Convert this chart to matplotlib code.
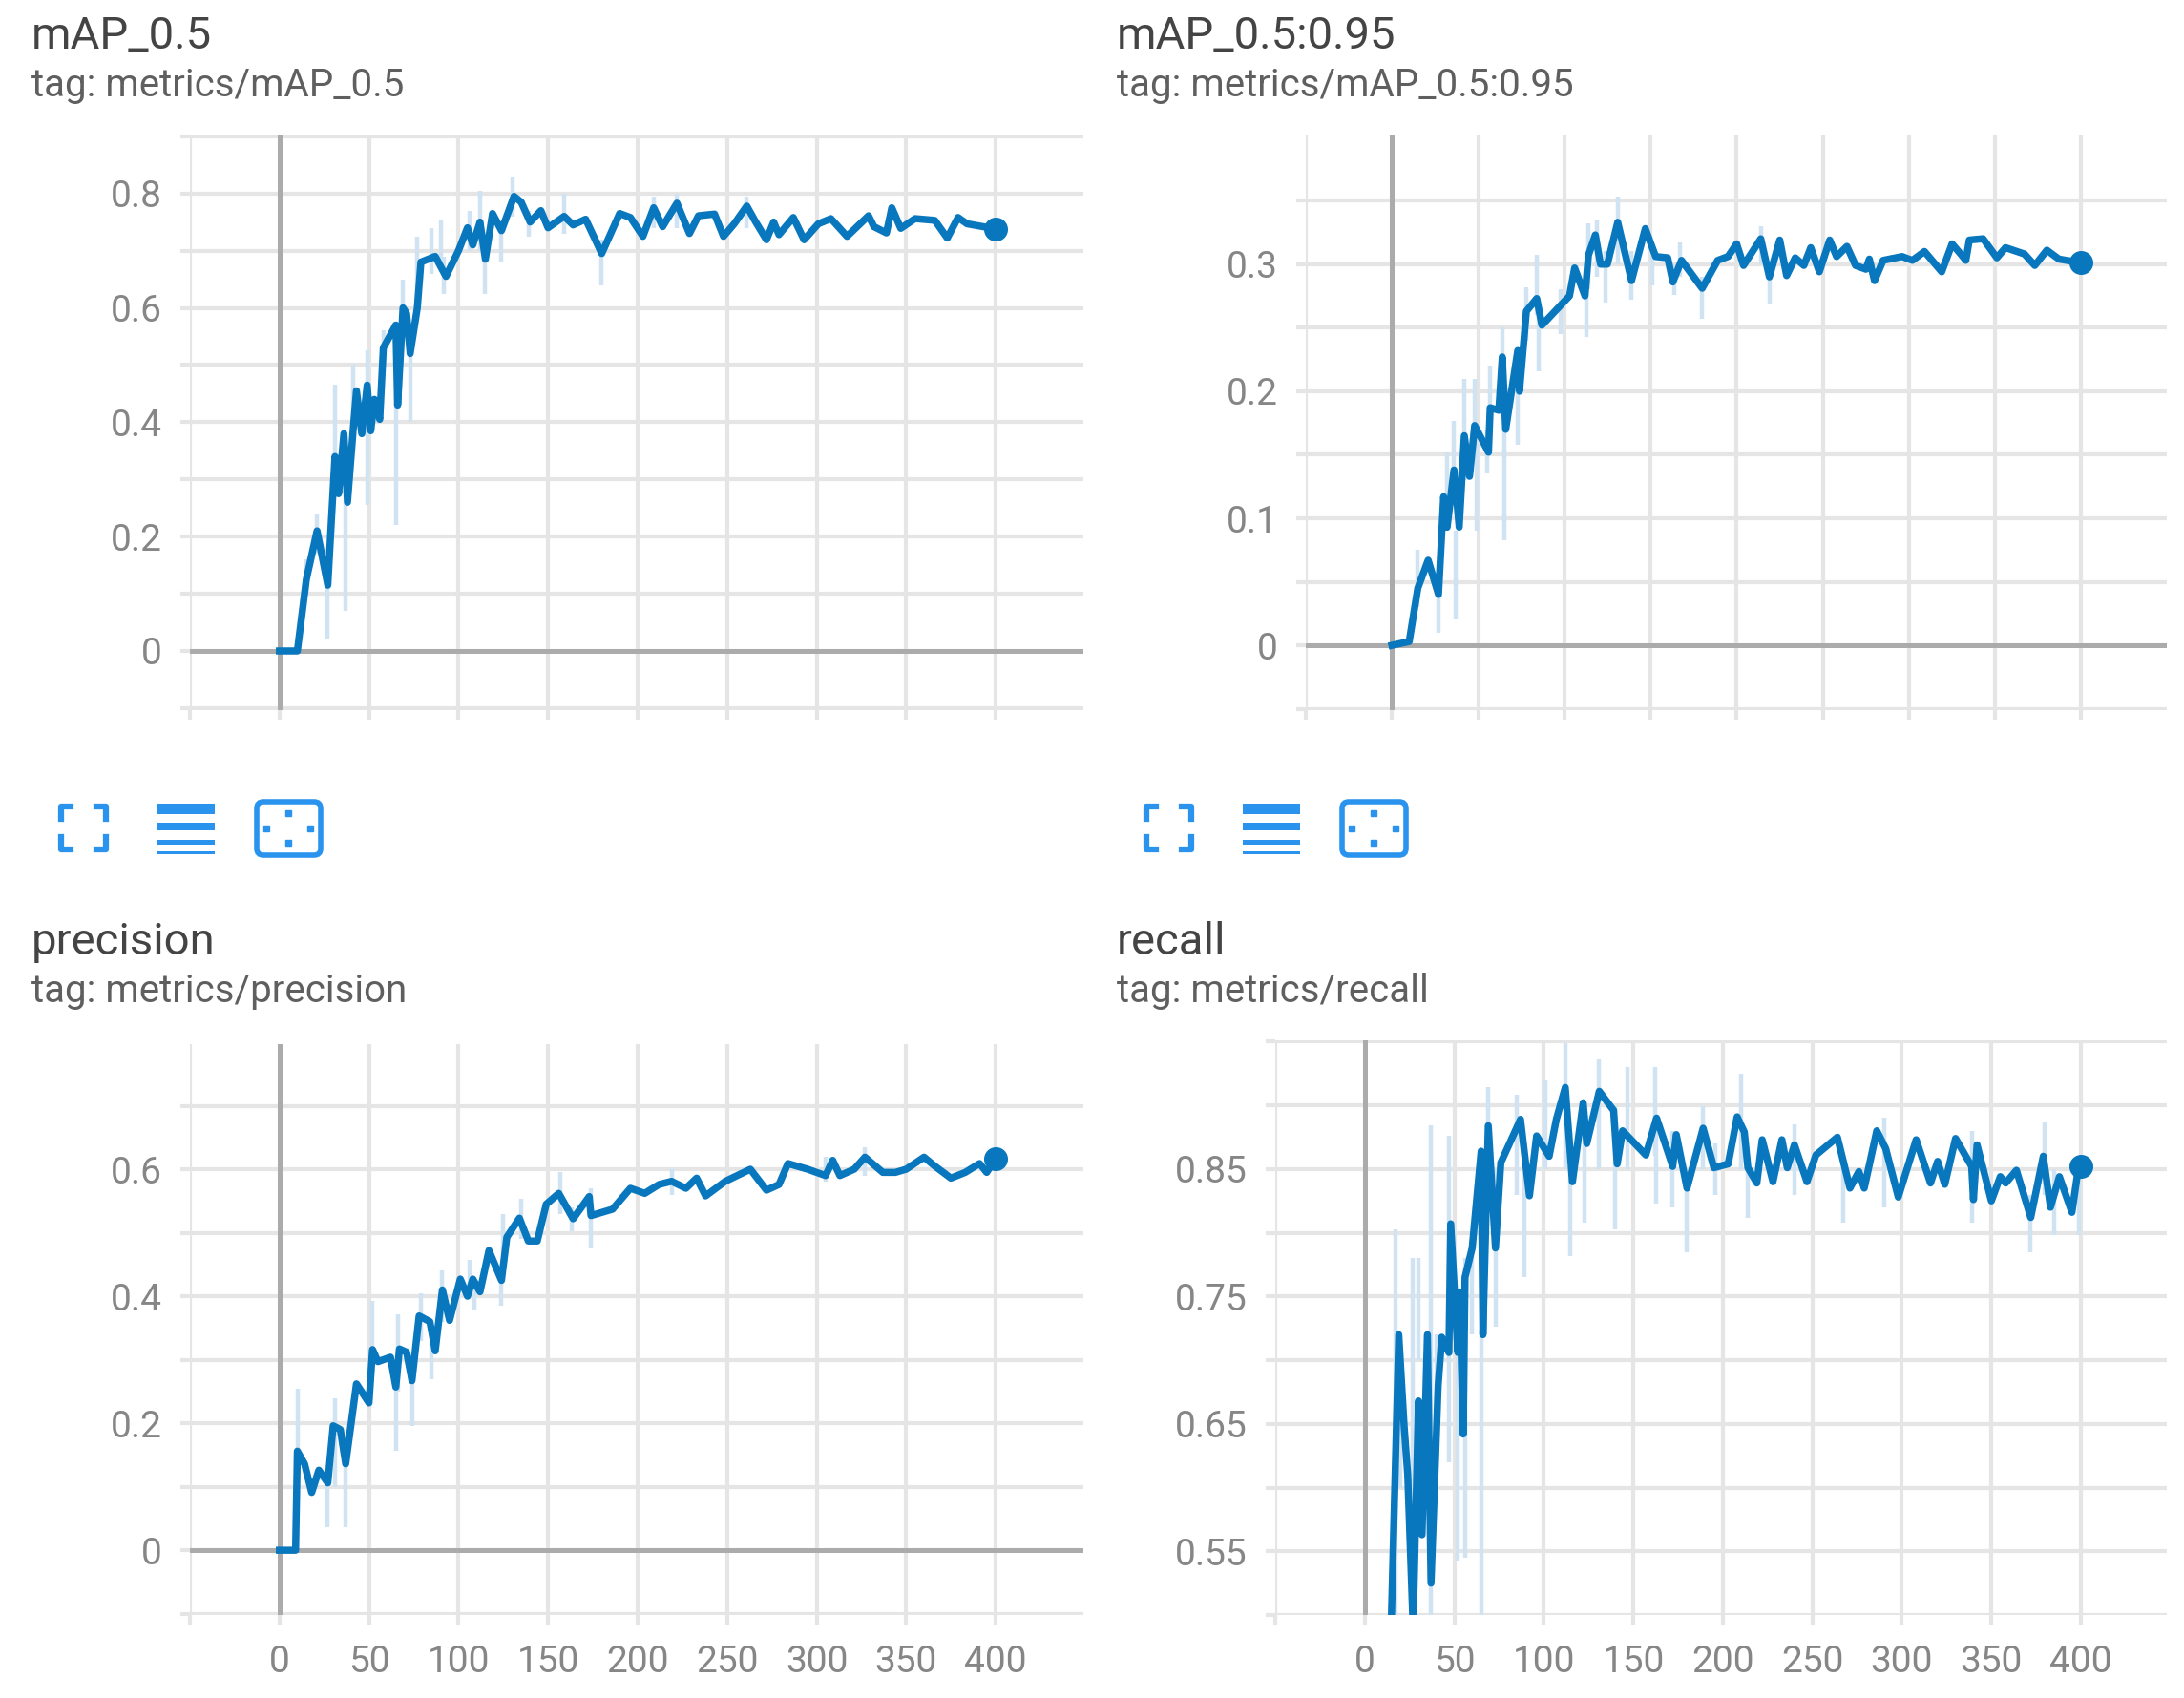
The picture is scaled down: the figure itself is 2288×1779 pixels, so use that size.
import matplotlib
matplotlib.use('Agg')  # no display here
import matplotlib.pyplot as plt
from matplotlib.patches import FancyBboxPatch, Rectangle

W, H = 2288, 1779

BLUE = '#0877bd'
RAW = '#cfe3f2'
GRID = '#e5e5e5'
ZERO = '#ababab'
ICON = '#2a93ee'

# mAP_0.5
map5_x = [0, 10, 15, 21, 27, 31, 33, 36, 38, 41, 43, 46, 49, 51, 53, 56, 58, 65, 66, 69, 71, 73, 77, 79, 87, 93,
          100, 105, 108, 112, 115, 119, 124, 131, 135, 140, 146, 150, 159, 164, 171, 180, 190, 196, 203, 209, 214,
          222, 229, 234, 243, 248, 254, 261, 266, 272, 276, 279, 287, 293, 301, 308, 317, 329, 332, 339, 342, 347,
          355, 366, 373, 379, 384, 400]
map5_y = [0, 0.0, 0.125, 0.21, 0.115, 0.34, 0.275, 0.38, 0.26, 0.38, 0.455, 0.38, 0.465, 0.385, 0.44, 0.405, 0.53,
          0.57, 0.43, 0.60, 0.59, 0.52, 0.60, 0.68, 0.69, 0.655, 0.70, 0.74, 0.71, 0.75, 0.685, 0.765, 0.735, 0.795,
          0.785, 0.75, 0.77, 0.74, 0.76, 0.745, 0.755, 0.695, 0.765, 0.758, 0.725, 0.775, 0.742, 0.783, 0.73, 0.761,
          0.764, 0.725, 0.747, 0.778, 0.75, 0.719, 0.75, 0.728, 0.758, 0.719, 0.747, 0.756, 0.725, 0.761, 0.742,
          0.731, 0.775, 0.739, 0.756, 0.753, 0.722, 0.758, 0.747, 0.738]
map5_raw_x = [15, 21, 27, 31, 37, 41, 49, 58, 65, 69, 73, 77, 85, 90, 92, 106, 112, 115, 124, 130, 139, 159, 180,
              209, 222, 261]
map5_raw_lo = [0.10, 0.17, 0.02, 0.30, 0.07, 0.35, 0.255, 0.50, 0.22, 0.55, 0.40, 0.60, 0.66, 0.68, 0.625, 0.70,
               0.70, 0.625, 0.68, 0.76, 0.725, 0.73, 0.64, 0.74, 0.74, 0.74]
map5_raw_hi = [0.16, 0.24, 0.13, 0.465, 0.30, 0.50, 0.525, 0.56, 0.45, 0.65, 0.55, 0.725, 0.74, 0.755, 0.69, 0.77,
               0.805, 0.70, 0.75, 0.83, 0.77, 0.80, 0.72, 0.795, 0.80, 0.795]

# mAP_0.5:0.95
map95_x = [0, 10, 15, 21, 27, 30, 32, 36, 39, 42, 45, 48, 56, 57, 62, 64, 66, 73, 74, 78, 84, 87, 103, 106, 112,
           114, 118, 121, 125, 131, 139, 147, 153, 160, 163, 168, 180, 189, 195, 200, 204, 214, 219, 225, 229, 234,
           239, 243, 248, 254, 258, 264, 269, 275, 277, 280, 285, 296, 302, 309, 319, 325, 330, 333, 335, 343, 351,
           356, 367, 373, 380, 387, 400]
map95_y = [0, 0.003, 0.045, 0.067, 0.04, 0.117, 0.093, 0.138, 0.093, 0.165, 0.133, 0.173, 0.152, 0.187, 0.185, 0.227,
           0.17, 0.232, 0.2, 0.263, 0.273, 0.252, 0.275, 0.297, 0.275, 0.307, 0.323, 0.3, 0.3, 0.333, 0.287, 0.328,
           0.306, 0.305, 0.286, 0.303, 0.281, 0.303, 0.306, 0.316, 0.299, 0.32, 0.29, 0.319, 0.291, 0.305, 0.299,
           0.313, 0.294, 0.319, 0.306, 0.314, 0.299, 0.296, 0.304, 0.287, 0.303, 0.306, 0.303, 0.31, 0.294, 0.316,
           0.308, 0.303, 0.319, 0.32, 0.305, 0.313, 0.308, 0.299, 0.311, 0.304, 0.301]
map95_raw_x = [15, 27, 32, 36, 37, 42, 48, 49, 55, 57, 64, 65, 73, 78, 84, 85, 98, 113, 114, 119, 124, 131, 139,
               151, 164, 167, 180, 214, 219]
map95_raw_lo = [0.03, 0.01, 0.09, 0.12, 0.02, 0.13, 0.15, 0.09, 0.135, 0.17, 0.19, 0.083, 0.158, 0.24, 0.26, 0.216,
                0.245, 0.243, 0.28, 0.29, 0.27, 0.30, 0.272, 0.283, 0.276, 0.29, 0.257, 0.30, 0.269]
map95_raw_hi = [0.075, 0.05, 0.152, 0.177, 0.09, 0.21, 0.21, 0.16, 0.17, 0.22, 0.25, 0.18, 0.21, 0.282, 0.307, 0.27,
                0.28, 0.30, 0.332, 0.335, 0.31, 0.353, 0.31, 0.31, 0.30, 0.317, 0.29, 0.33, 0.30]

# precision
prec_x = [0, 9, 10, 14, 18, 22, 27, 30, 34, 37, 43, 50, 52, 55, 62, 65, 67, 71, 74, 78, 84, 87, 91, 95, 101, 105,
          108, 112, 117, 124, 127, 134, 139, 144, 149, 156, 164, 173, 174, 186, 196, 204, 212, 219, 227, 233, 238,
          249, 263, 272, 279, 284, 295, 305, 309, 313, 321, 327, 337, 344, 350, 360, 366, 375, 383, 391, 395, 400]
prec_y = [0, 0, 0.156, 0.136, 0.091, 0.126, 0.106, 0.196, 0.19, 0.136, 0.262, 0.232, 0.316, 0.297, 0.304, 0.257,
          0.317, 0.312, 0.267, 0.369, 0.36, 0.314, 0.41, 0.362, 0.427, 0.40, 0.427, 0.407, 0.472, 0.425, 0.493,
          0.523, 0.487, 0.487, 0.545, 0.562, 0.522, 0.557, 0.527, 0.537, 0.57, 0.562, 0.576, 0.581, 0.57, 0.586,
          0.558, 0.581, 0.60, 0.567, 0.576, 0.609, 0.60, 0.59, 0.614, 0.59, 0.60, 0.619, 0.595, 0.595, 0.60, 0.619,
          0.605, 0.586, 0.595, 0.609, 0.595, 0.617]
prec_raw_x = [10, 27, 31, 37, 52, 65, 66, 74, 79, 85, 91, 106, 109, 124, 125, 135, 157, 163, 174, 219, 305, 327]
prec_raw_lo = [0.13, 0.036, 0.10, 0.036, 0.28, 0.156, 0.25, 0.196, 0.33, 0.269, 0.36, 0.40, 0.377, 0.385, 0.45,
               0.49, 0.53, 0.503, 0.475, 0.56, 0.58, 0.59]
prec_raw_hi = [0.254, 0.12, 0.239, 0.15, 0.392, 0.27, 0.372, 0.28, 0.405, 0.33, 0.44, 0.457, 0.43, 0.43, 0.53,
               0.553, 0.595, 0.54, 0.57, 0.60, 0.62, 0.635]

# recall
rec_x = [14, 19, 22, 24, 27, 30, 32, 35, 37, 41, 43, 47, 48, 52, 53, 55, 56, 60, 65, 66, 69, 73, 76, 87, 92, 96,
         103, 107, 112, 116, 122, 124, 131, 139, 141, 144, 157, 163, 172, 174, 180, 189, 195, 203, 208, 212, 214,
         219, 222, 228, 233, 236, 240, 247, 252, 264, 271, 276, 279, 286, 291, 298, 308, 316, 320, 324, 330, 339,
         340, 342, 350, 355, 358, 364, 372, 379, 383, 388, 395, 398, 400]
rec_y = [0.45, 0.72, 0.648, 0.61, 0.49, 0.668, 0.563, 0.72, 0.525, 0.68, 0.718, 0.706, 0.807, 0.706, 0.753, 0.642,
         0.765, 0.788, 0.864, 0.72, 0.884, 0.788, 0.855, 0.889, 0.829, 0.876, 0.86, 0.889, 0.914, 0.84, 0.902, 0.87,
         0.911, 0.896, 0.854, 0.88, 0.861, 0.89, 0.852, 0.877, 0.835, 0.882, 0.851, 0.854, 0.891, 0.879, 0.851,
         0.839, 0.873, 0.84, 0.873, 0.851, 0.869, 0.84, 0.861, 0.875, 0.835, 0.848, 0.835, 0.88, 0.866, 0.828,
         0.873, 0.839, 0.856, 0.838, 0.874, 0.852, 0.826, 0.869, 0.825, 0.844, 0.839, 0.849, 0.812, 0.86, 0.82,
         0.844, 0.816, 0.845, 0.852]
rec_raw_x = [17, 20, 27, 30, 37, 40, 47, 52, 56, 60, 65, 69, 73, 85, 89, 101, 112, 115, 123, 131, 140, 147, 162,
             163, 172, 180, 189, 196, 210, 214, 240, 267, 290, 339, 372, 380, 385, 399]
rec_raw_lo = [0.50, 0.60, 0.50, 0.70, 0.50, 0.62, 0.62, 0.543, 0.545, 0.72, 0.50, 0.82, 0.726, 0.83, 0.765, 0.85,
              0.85, 0.782, 0.808, 0.85, 0.803, 0.85, 0.86, 0.823, 0.82, 0.785, 0.85, 0.83, 0.85, 0.812, 0.83, 0.808,
              0.82, 0.808, 0.785, 0.83, 0.798, 0.798]
rec_raw_hi = [0.803, 0.70, 0.78, 0.78, 0.884, 0.72, 0.876, 0.75, 0.78, 0.79, 0.72, 0.914, 0.85, 0.908, 0.86, 0.92,
              0.949, 0.88, 0.89, 0.937, 0.90, 0.93, 0.93, 0.88, 0.88, 0.85, 0.899, 0.87, 0.925, 0.86, 0.885, 0.86,
              0.89, 0.88, 0.83, 0.887, 0.85, 0.84]

x_ticks = [-50, 0, 50, 100, 150, 200, 250, 300, 350, 400]
x_labels = ['', '0', '50', '100', '150', '200', '250', '300', '350', '400']

titles = ['mAP_0.5', 'mAP_0.5:0.95', 'precision', 'recall']
tags = ['tag: metrics/mAP_0.5', 'tag: metrics/mAP_0.5:0.95', 'tag: metrics/precision', 'tag: metrics/recall']

y_ticks = [
    [-0.1, 0, 0.1, 0.2, 0.3, 0.4, 0.5, 0.6, 0.7, 0.8, 0.9],
    [-0.05, 0, 0.05, 0.1, 0.15, 0.2, 0.25, 0.3, 0.35],
    [-0.1, 0, 0.1, 0.2, 0.3, 0.4, 0.5, 0.6, 0.7],
    [0.5, 0.55, 0.6, 0.65, 0.7, 0.75, 0.8, 0.85, 0.9, 0.95],
]
y_labels = [
    ['', '0', '', '0.2', '', '0.4', '', '0.6', '', '0.8', ''],
    ['', '0', '', '0.1', '', '0.2', '', '0.3', ''],
    ['', '0', '', '0.2', '', '0.4', '', '0.6', ''],
    ['', '0.55', '', '0.65', '', '0.75', '', '0.85', '', ''],
]

# panel boxes in pixels: left, right, top, bottom, then the axis limits
boxes = [
    (199, 1135, 141, 744, (-50, 449), (-0.1035, 0.903)),
    (1368, 2270, 141, 744, (-50, 449.6), (-0.051, 0.402)),
    (199, 1135, 1094, 1692, (-50, 449), (-0.102, 0.797)),
    (1336, 2270, 1090, 1692, (-50, 448), (0.5, 0.951)),
]
series = [
    (map5_x, map5_y, map5_raw_x, map5_raw_lo, map5_raw_hi),
    (map95_x, map95_y, map95_raw_x, map95_raw_lo, map95_raw_hi),
    (prec_x, prec_y, prec_raw_x, prec_raw_lo, prec_raw_hi),
    (rec_x, rec_y, rec_raw_x, rec_raw_lo, rec_raw_hi),
]
title_x = [33, 1170, 33, 1170]
title_y = [51, 51, 1000, 1000]

plt.rcParams['font.family'] = ['Roboto', 'DejaVu Sans']
fig = plt.figure(figsize=(W / 100, H / 100), dpi=100, facecolor='white')

for i in range(4):
    left, right, top, bottom, xlim, ylim = boxes[i]
    ax = fig.add_axes([left / W, 1 - bottom / H, (right - left) / W, (bottom - top) / H])
    for s in ax.spines.values():
        s.set_visible(False)
    ax.set_xlim(*xlim)
    ax.set_ylim(*ylim)
    ax.set_xticks(x_ticks)
    ax.set_yticks(y_ticks[i])
    ax.set_yticklabels(y_labels[i])
    if i >= 2:
        ax.set_xticklabels(x_labels)
    else:
        ax.set_xticklabels([''] * len(x_ticks))
    ax.tick_params(axis='both', length=7, width=3, color=GRID, labelcolor='#868686', labelsize=28)
    ax.tick_params(axis='y', pad=14)
    ax.tick_params(axis='x', pad=15)
    ax.grid(True, color=GRID, linewidth=3, zorder=1)
    ax.set_axisbelow(True)

    # the darker zero lines
    ax.axvline(0, color=ZERO, linewidth=3.6, zorder=2)
    if i < 3:
        ax.axhline(0, color=ZERO, linewidth=3.6, zorder=2)

    x, y, raw_x, raw_lo, raw_hi = series[i]
    ax.vlines(raw_x, raw_lo, raw_hi, color=RAW, linewidth=3.2, zorder=3)
    ax.plot(x, y, color=BLUE, linewidth=5.4, solid_joinstyle='round', zorder=4)
    ax.plot(x[-1], y[-1], 'o', color=BLUE, markersize=17, zorder=5)

    fig.text(title_x[i] / W, 1 - title_y[i] / H, titles[i], fontsize=34, color='#444444', va='baseline')
    fig.text(title_x[i] / W, 1 - (title_y[i] + 50) / H, tags[i], fontsize=29, color='#5f5f5f', va='baseline')

# the three small icons above the lower panels, same set twice
over = fig.add_axes([0, 0, 1, 1], facecolor='none')
over.set_xlim(0, W)
over.set_ylim(H, 0)
over.axis('off')
for dx in [0, 1137]:
    # fullscreen corners
    corners = [
        ([64, 64, 74], [858, 845, 845]), ([101, 111, 111], [845, 845, 858]),
        ([64, 64, 74], [877, 890, 890]), ([101, 111, 111], [890, 890, 877]),
    ]
    for cx, cy in corners:
        over.plot([c + dx for c in cx], cy, color=ICON, linewidth=4.5, solid_joinstyle='round')
    # stacked lines
    for ly, lh in [(847, 11), (866, 8), (882, 5), (893, 3)]:
        over.add_patch(Rectangle((165 + dx, ly - lh / 2), 60, lh, color=ICON, linewidth=0))
    # fit box
    over.add_patch(FancyBboxPatch((269 + dx, 840), 67, 56, boxstyle='round,pad=0,rounding_size=7',
                                  fill=False, edgecolor=ICON, linewidth=4))
    for px, py in [(302, 852), (279, 868), (325, 868), (302, 883)]:
        over.plot(px + dx, py, 's', color=ICON, markersize=4)

fig.savefig('out.png', dpi=100)
